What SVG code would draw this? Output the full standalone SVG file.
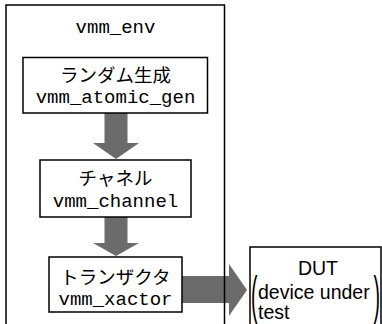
<svg xmlns="http://www.w3.org/2000/svg" width="382" height="324" viewBox="0 0 382 324">
<style>
.box{fill:#fff;stroke:#000;stroke-width:1.5}
.frame{fill:none;stroke:#000;stroke-width:1.5}
.arr{fill:#6b6b6b;stroke:none}
.jp{font-family:"Noto Sans CJK JP","Noto Sans",sans-serif;font-size:18.5px;fill:#000;text-anchor:middle}
.mono{font-family:"Liberation Mono","Courier New",monospace;font-size:19px;fill:#000;text-anchor:middle}
.sans{font-family:"Liberation Sans",Arial,sans-serif;font-size:19.5px;fill:#000}
</style>
<rect x="0" y="0" width="382" height="324" fill="#fff"/>
<g id="connectors">
<polygon class="arr" points="104.5,113 127.5,113 127.5,143 139,143 116,159 93,143 104.5,143"/>
<polygon class="arr" points="104.5,217 127.5,217 127.5,243 139,243 116,256 93,243 104.5,243"/>
<polygon class="arr" points="182,276 229,276 229,264 247,290 229,316 229,303 182,303"/>
</g>
<g id="vmm_env">
<path class="frame" d="M6,330 V5 H224.5 V330"/>
<text class="mono" x="115.5" y="33">vmm_env</text>
</g>
<g id="gen">
<rect class="box" x="23" y="57.5" width="184.5" height="55.5"/>
<text class="jp" x="115.5" y="82">ランダム生成</text>
<text class="mono" x="115.5" y="103">vmm_atomic_gen</text>
</g>
<g id="channel">
<rect class="box" x="40" y="160" width="151" height="57"/>
<text class="jp" x="115.5" y="185">チャネル</text>
<text class="mono" x="115.5" y="207">vmm_channel</text>
</g>
<g id="xactor">
<rect class="box" x="49" y="257" width="133" height="55"/>
<text class="jp" x="115.5" y="284">トランザクタ</text>
<text class="mono" x="115.5" y="305">vmm_xactor</text>
</g>
<g id="dut">
<path class="frame" d="M250,330 V247 H381 V330"/>
<text class="sans" x="318" y="275" text-anchor="middle">DUT</text>
<text class="sans" x="258" y="299">device under</text>
<text class="sans" x="258" y="319">test</text>
<text class="sans" x="251" y="117.5" transform="scale(1,2.66)">(</text>
<text class="sans" x="373.5" y="117.5" transform="scale(1,2.66)">)</text>
</g>
</svg>
